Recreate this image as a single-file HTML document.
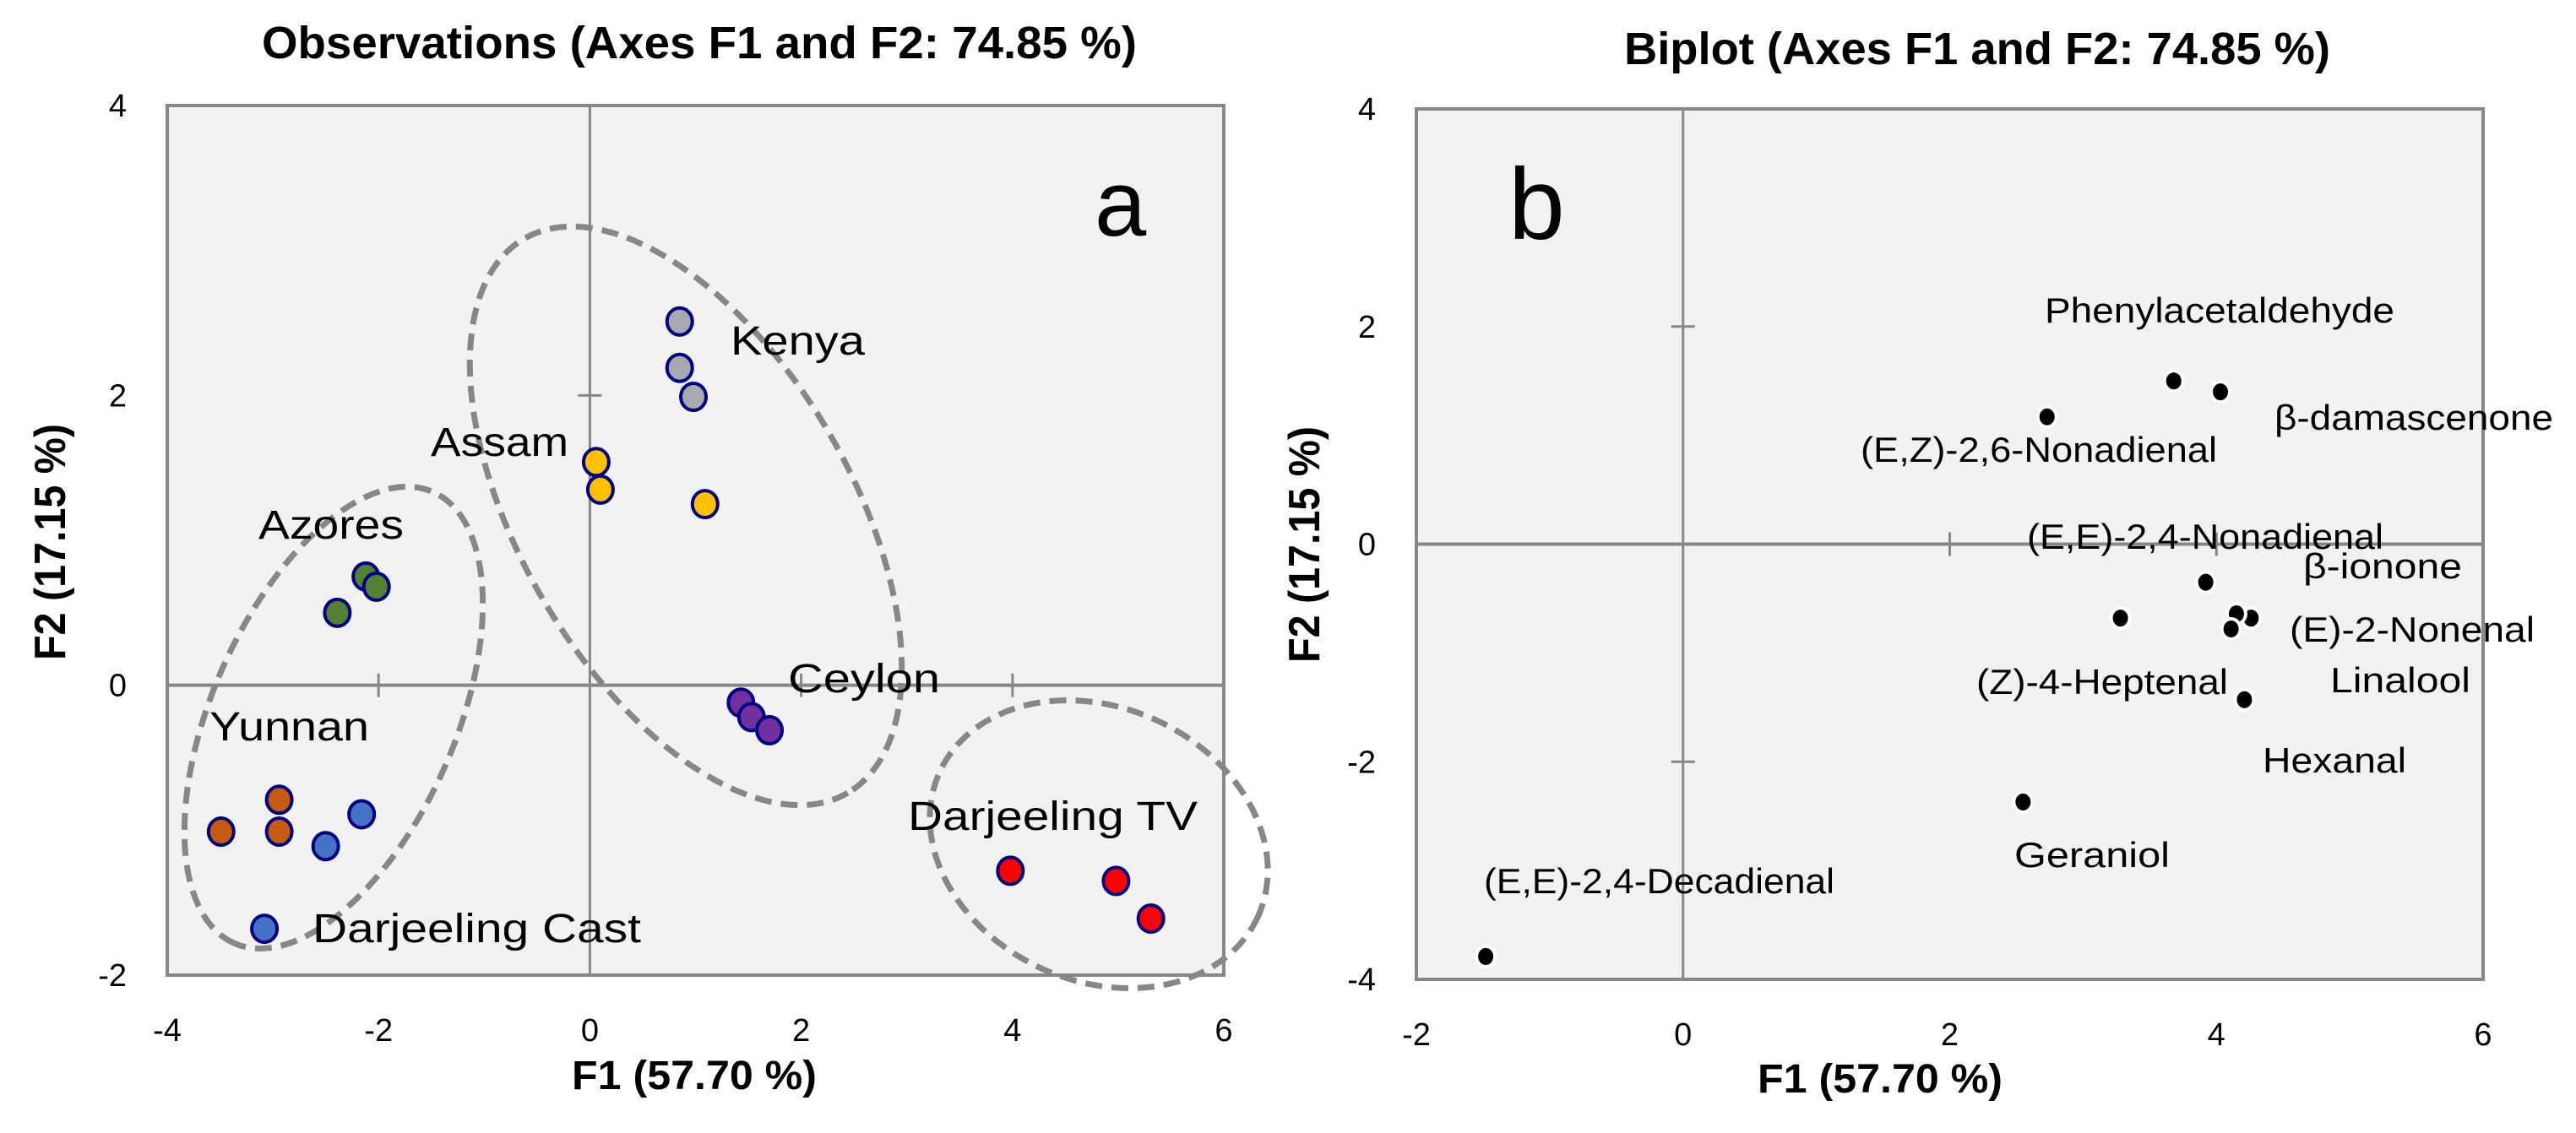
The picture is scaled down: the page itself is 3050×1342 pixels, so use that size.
<!DOCTYPE html>
<html><head><meta charset="utf-8"><style>
html,body{margin:0;padding:0;background:#fff;}
svg{display:block;font-family:"Liberation Sans",sans-serif;}
</style></head><body>
<svg id="chart" width="3050" height="1342" viewBox="0 0 3050 1342" xmlns="http://www.w3.org/2000/svg">
<g id="left"></g>
<g id="right"></g>
</svg>
<script>
// ---- Observations data ----
const obsGroups = ["Kenya","Assam","Azores","Ceylon","Yunnan","Darjeeling Cast","Darjeeling TV"];
const obsColors = ["#a8a8b0","#ffc000","#548235","#7030a0","#c55a11","#4472c4","#ff0000"];
const obsX = [[0.85,0.85,0.98],[0.06,0.10,1.09],[-2.12,-2.02,-2.39],[1.43,1.53,1.70],[-3.49,-2.94,-2.94],[-2.16,-2.50,-3.08],[3.98,4.98,5.31]];
const obsY = [[2.51,2.19,1.99],[1.54,1.35,1.25],[0.75,0.68,0.50],[-0.12,-0.22,-0.31],[-1.01,-0.79,-1.01],[-0.89,-1.11,-1.68],[-1.28,-1.35,-1.61]];
const obsXTicks = [-4,-2,0,2,4,6];
const obsYTicks = [-2,0,2,4];
// ---- Biplot data ----
const varNames = ["Phenylacetaldehyde","β-damascenone","(E,Z)-2,6-Nonadienal","β-ionone","(E,E)-2,4-Nonadienal","(E)-2-Nonenal","nonenal-2","(Z)-4-Heptenal","Linalool","Geraniol","(E,E)-2,4-Decadienal"];
const varX = [3.68,4.03,2.73,3.92,3.28,4.26,4.15,4.11,4.21,2.55,-1.48];
const varY = [1.50,1.40,1.17,-0.35,-0.68,-0.68,-0.64,-0.78,-1.43,-2.37,-3.79];
const bipXTicks = [-2,0,2,4,6];
const bipYTicks = [-4,-2,0,2,4];

const NS="http://www.w3.org/2000/svg";
function mk(parent,tag,attrs,text){const e=document.createElementNS(NS,tag);for(const k in attrs)e.setAttribute(k,attrs[k]);if(text!==undefined)e.textContent=text;parent.appendChild(e);return e;}

function frame(g,L,R,T,B,xmin,xmax,ymin,ymax,xt,yt,innerX,innerY){
  const sx=v=>L+(v-xmin)/(xmax-xmin)*(R-L);
  const sy=v=>B-(v-ymin)/(ymax-ymin)*(B-T);
  let r=mk(g,'rect',{x:L,y:T,width:R-L,height:B-T,fill:'#f2f2f2',stroke:'#878787','stroke-width':4});
  
  
  let a=mk(g,'line',{x1:sx(0),x2:sx(0),y1:T,y2:B,stroke:'#878787','stroke-width':3});
  
  
  let b=mk(g,'line',{x1:L,x2:R,y1:sy(0),y2:sy(0),stroke:'#878787','stroke-width':4});
  
  
  innerX.forEach(v=>{let t=mk(g,'line',{x1:sx(v),x2:sx(v),y1:sy(0)-14,y2:sy(0)+14,stroke:'#878787','stroke-width':3});
    
    });
  innerY.forEach(v=>{let t=mk(g,'line',{x1:sx(0)-14,x2:sx(0)+14,y1:sy(v),y2:sy(v),stroke:'#878787','stroke-width':3});
    
    });
  xt.forEach(v=>{let t=mk(g,'text',{x:sx(v),y:B+78,'font-size':38,'text-anchor':'middle',fill:'#000'},String(v));
    
    });
  yt.forEach(v=>{let t=mk(g,'text',{x:L-48,y:sy(v)+13,'font-size':38,'text-anchor':'end',fill:'#000'},String(v));
    
    });
  return [sx,sy];
}

// LEFT
const gl=document.getElementById('left');
const [lx,ly]=frame(gl,198,1449,125,1155,-4,6,-2,4,obsXTicks,obsYTicks,[-2,2,4],[2]);
let t;
t=mk(gl,'text',{x:310,y:69,'font-size':54,'font-weight':'bold',textLength:1036,lengthAdjust:'spacingAndGlyphs'},'Observations (Axes F1 and F2: 74.85  %)');


t=mk(gl,'text',{x:822,y:1290,'font-size':48,'font-weight':'bold','text-anchor':'middle',textLength:290,lengthAdjust:'spacingAndGlyphs'},'F1 (57.70 %)');


t=mk(gl,'text',{x:0,y:0,'font-size':52,'font-weight':'bold','text-anchor':'middle',transform:'translate(77,642) rotate(-90)',textLength:280,lengthAdjust:'spacingAndGlyphs'},'F2 (17.15 %)');


// ellipses
[[812,611,380,196,59.7],[395,850,292,144,113.75],[1301,1000,207,162,24.3]].forEach(e=>{
  let el=mk(gl,'ellipse',{cx:e[0],cy:e[1],rx:e[2],ry:e[3],transform:`rotate(${e[4]} ${e[0]} ${e[1]})`,fill:'none',stroke:'#878787','stroke-width':7,'stroke-dasharray':'20 11'});
  
  
});
obsGroups.forEach((gname,i)=>{
  obsX[i].forEach((xv,j)=>{
    let c=mk(gl,'ellipse',{cx:lx(xv),cy:ly(obsY[i][j]),rx:15,ry:16,fill:obsColors[i],stroke:'#000080','stroke-width':4});
    
    
  });
});
const obsLabelPos=[[865,420,159],[510,540,163],[306,638,172],[933,820,180],[248,877,189],[370,1116,389],[1075,983,343]];
obsGroups.forEach((gname,i)=>{
  let tx=mk(gl,'text',{x:obsLabelPos[i][0],y:obsLabelPos[i][1],'font-size':48,fill:'#000',textLength:obsLabelPos[i][2],lengthAdjust:'spacingAndGlyphs'},gname);
  
  
});
t=mk(gl,'text',{x:1296,y:279,'font-size':110,fill:'#000'},'a');



// RIGHT
const gr=document.getElementById('right');
const [rx,ry]=frame(gr,1677,2940,129,1160,-2,6,-4,4,bipXTicks,bipYTicks,[2,4],[2,-2]);
t=mk(gr,'text',{x:1923,y:76,'font-size':54,'font-weight':'bold',textLength:836,lengthAdjust:'spacingAndGlyphs'},'Biplot (Axes F1 and F2: 74.85  %)');


t=mk(gr,'text',{x:2226,y:1294,'font-size':48,'font-weight':'bold','text-anchor':'middle',textLength:290,lengthAdjust:'spacingAndGlyphs'},'F1 (57.70 %)');


t=mk(gr,'text',{x:0,y:0,'font-size':52,'font-weight':'bold','text-anchor':'middle',transform:'translate(1562,645) rotate(-90)',textLength:280,lengthAdjust:'spacingAndGlyphs'},'F2 (17.15 %)');


varX.forEach((xv,i)=>{
  let c=mk(gr,'ellipse',{cx:rx(xv),cy:ry(varY[i]),rx:11,ry:12,fill:'#000',stroke:'#fff','stroke-width':4});
  
  
});
const bipLabels=[["Phenylacetaldehyde",2421,382,414],["β-damascenone",2693,509,330],["(E,Z)-2,6-Nonadienal",2203,547,422],["(E,E)-2,4-Nonadienal",2400,650,422],["β-ionone",2727,685,188],["(E)-2-Nonenal",2711,760,290],["Linalool",2759,820,166],["(Z)-4-Heptenal",2340,822,298],["Hexanal",2679,915,170],["Geraniol",2385,1027,184],["(E,E)-2,4-Decadienal",1757,1058,415]];
bipLabels.forEach(l=>{
  let tx=mk(gr,'text',{x:l[1],y:l[2],'font-size':42,fill:'#000',textLength:l[3],lengthAdjust:'spacingAndGlyphs'},l[0]);
  
  
});
t=mk(gr,'text',{x:1786,y:283,'font-size':120,fill:'#000'},'b');


</script>
</body></html>
